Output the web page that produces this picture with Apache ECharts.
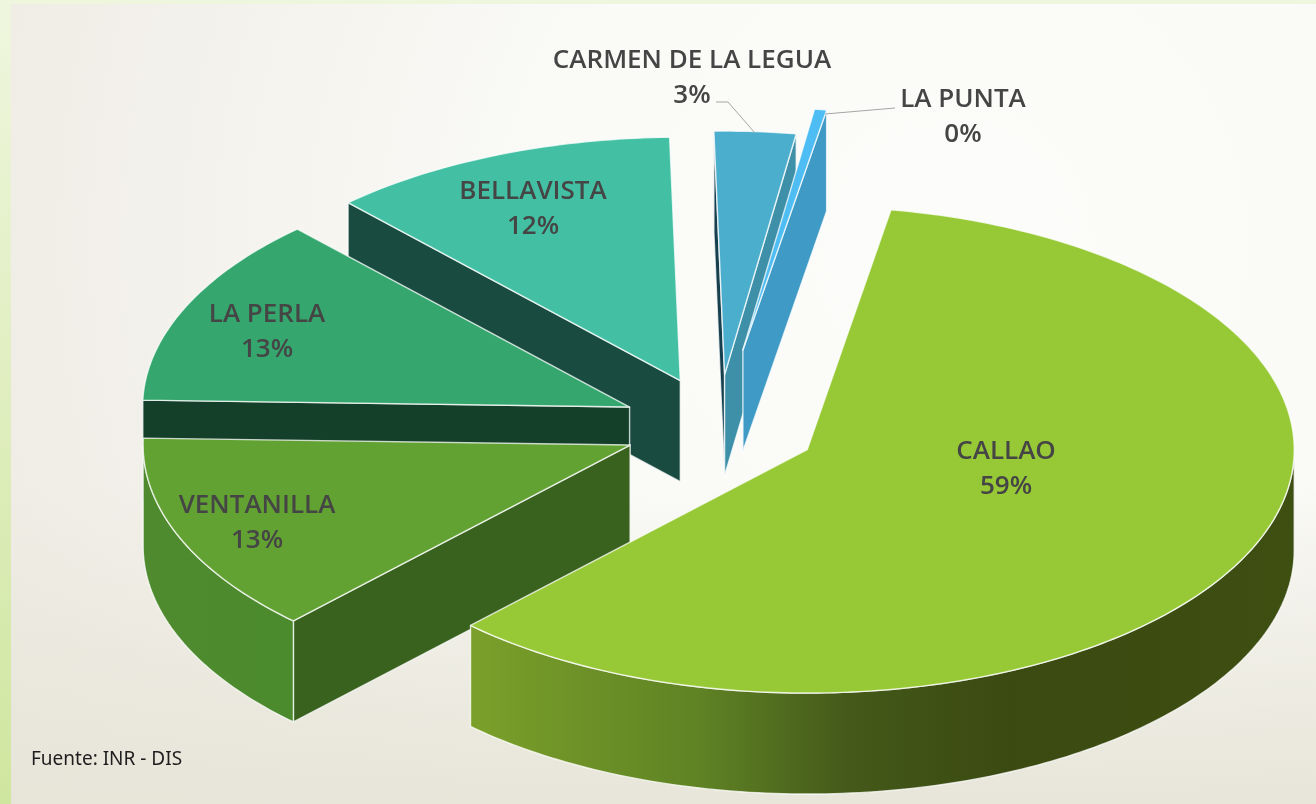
<!DOCTYPE html>
<html>
<head>
<meta charset="utf-8">
<title>Fuente: INR - DIS</title>
<style>
html,body{margin:0;padding:0;background:#fff;}
#main{width:1316px;height:804px;}
</style>
<script src="https://cdn.jsdelivr.net/npm/echarts@6/dist/echarts.min.js"></script>
</head>
<body>
<div id="main"></div>
<script>
// datos
var sliceNames = ['CALLAO', 'VENTANILLA', 'LA PERLA', 'BELLAVISTA', 'CARMEN DE LA LEGUA', 'LA PUNTA'];
var sliceValues = [59.4, 13.3, 12.6, 11.6, 2.7, 0.4];

// estilo de cada porcion
var topColors = ['#97c937', '#62a233', '#35a66d', '#43c0a3', '#4caecd', '#4dbdf3'];
var startWallColors = [null, '#3a621f', '#143f29', '#194b41', '#17404f', null];
var endWallColors = [null, null, null, null, '#3e90a8', '#3f9ac6'];
var explode = [1, 0.95, 0.97, 1, 1.05, 1.56];
var paintOrder = [6, 5, 4, 1, 2, 3];
var rimStops = [
    [[0, '#7ba02a'], [0.28, '#5f8224'], [0.46, '#44591a'], [0.65, '#3b4a11'], [1, '#3e4f12']],
    [[0, '#4f8b2e'], [1, '#4c8a2e']]
];
var labelCenters = [[1006, 469], [257, 523], [267, 332], [533, 209], [692, 78], [963, 117]];

// pastel en perspectiva
var cx = 718, cy = 427, rx = 487, ry = 243.5, depth = 101;
var explodeX = 100, explodeY = 50;
var startAngle = 9.9;
var total = sliceValues.reduce(function (a, b) { return a + b; }, 0);

function rad(d) { return d * Math.PI / 180; }
function rimPoint(c, t, dy) {
    return [c[0] + rx * Math.sin(rad(t)), c[1] - ry * Math.cos(rad(t)) + (dy || 0)];
}
function arcPoints(c, t0, t1, dy) {
    var pts = [], n = Math.max(2, Math.ceil(Math.abs(t1 - t0)));
    for (var i = 0; i <= n; i++) {
        pts.push(rimPoint(c, t0 + (t1 - t0) * i / n, dy));
    }
    return pts;
}

function renderSlice(params, api) {
    var i = params.dataIndex;
    var before = 0;
    for (var k = 0; k < i; k++) before += sliceValues[k];
    var t0 = startAngle + before / total * 360;
    var t1 = t0 + api.value(0) / total * 360;
    var mid = (t0 + t1) / 2;
    var c = [
        cx + explode[i] * explodeX * Math.sin(rad(mid)),
        cy - explode[i] * explodeY * Math.cos(rad(mid))
    ];
    var z = paintOrder[i] * 10;
    var edge = { stroke: 'rgba(255,255,255,0.75)', lineWidth: 1.4 };
    var children = [];

    function wall(t, color, order) {
        var p = rimPoint(c, t);
        children.push({
            type: 'polygon', z2: z + order,
            shape: { points: [c, p, [p[0], p[1] + depth], [c[0], c[1] + depth]] },
            style: { fill: color, stroke: edge.stroke, lineWidth: edge.lineWidth, lineJoin: 'round' }
        });
    }
    if (startWallColors[i]) wall(t0, startWallColors[i], 1);
    if (endWallColors[i]) wall(t1, endWallColors[i], 2);

    // borde exterior, solo la parte que mira al frente
    var a = Math.max(t0, 90), b = Math.min(t1, 270);
    if (b > a && rimStops[i]) {
        var top = arcPoints(c, a, b, 0);
        var bottom = arcPoints(c, b, a, depth);
        var xs = top.map(function (p) { return p[0]; });
        children.push({
            type: 'polygon', z2: z + 3,
            shape: { points: top.concat(bottom) },
            style: {
                fill: {
                    type: 'linear', global: true,
                    x: Math.min.apply(null, xs), y: 0, x2: Math.max.apply(null, xs), y2: 0,
                    colorStops: rimStops[i].map(function (s) { return { offset: s[0], color: s[1] }; })
                },
                stroke: edge.stroke, lineWidth: edge.lineWidth, lineJoin: 'round'
            }
        });
    }

    // cara superior
    children.push({
        type: 'polygon', z2: z + 4,
        shape: { points: [c].concat(arcPoints(c, t0, t1, 0)) },
        style: { fill: topColors[i], stroke: edge.stroke, lineWidth: edge.lineWidth, lineJoin: 'round' }
    });

    children.push({
        type: 'text', z2: 900,
        style: {
            x: labelCenters[i][0], y: labelCenters[i][1],
            text: sliceNames[i] + '\n' + Math.round(api.value(0)) + '%',
            textAlign: 'center', textVerticalAlign: 'middle',
            font: '600 26px "Open Sans", sans-serif', lineHeight: 35, fill: '#454545'
        }
    });
    return { type: 'group', children: children };
}

var myChart = echarts.init(document.getElementById('main'));

myChart.setOption({
    animation: false,
    graphic: [
        {
            type: 'rect', z: -3,
            shape: { x: 0, y: 0, width: 1316, height: 804 },
            style: {
                fill: {
                    type: 'linear', x: 0, y: 0, x2: 0, y2: 1,
                    colorStops: [{ offset: 0, color: '#eff6de' }, { offset: 1, color: '#cfe69f' }]
                }
            }
        },
        {
            type: 'rect', z: -2,
            shape: { x: 11, y: 4, width: 1305, height: 800 },
            style: {
                fill: {
                    type: 'radial', x: 0.72, y: 0.3, r: 1.3,
                    colorStops: [
                        { offset: 0, color: '#fcfcfa' },
                        { offset: 0.4, color: '#fafaf7' },
                        { offset: 1, color: '#eeebe3' }
                    ]
                }
            }
        },
        {
            type: 'rect', z: -1,
            shape: { x: 11, y: 4, width: 1305, height: 800 },
            style: {
                fill: {
                    type: 'linear', x: 0, y: 0, x2: 0, y2: 1,
                    colorStops: [
                        { offset: 0.6, color: 'rgba(231,229,216,0)' },
                        { offset: 1, color: 'rgba(231,229,216,0.95)' }
                    ]
                }
            }
        },
        // lineas guia
        {
            type: 'polyline', z: 10,
            shape: { points: [[716, 102], [728, 102], [755, 133]] },
            style: { stroke: '#a6a6a6', lineWidth: 1, fill: null }
        },
        {
            type: 'polyline', z: 10,
            shape: { points: [[895, 108], [825, 114]] },
            style: { stroke: '#a6a6a6', lineWidth: 1, fill: null }
        },
        {
            type: 'text', z: 10,
            style: {
                x: 31, y: 760, text: 'Fuente: INR - DIS',
                textVerticalAlign: 'middle',
                font: '19px "Noto Sans", sans-serif', fill: '#1e1e1e'
            }
        }
    ],
    series: [{
        type: 'custom',
        coordinateSystem: 'none',
        renderItem: renderSlice,
        data: sliceValues.map(function (v, i) { return { name: sliceNames[i], value: [v] }; })
    }]
});
</script>
</body>
</html>
